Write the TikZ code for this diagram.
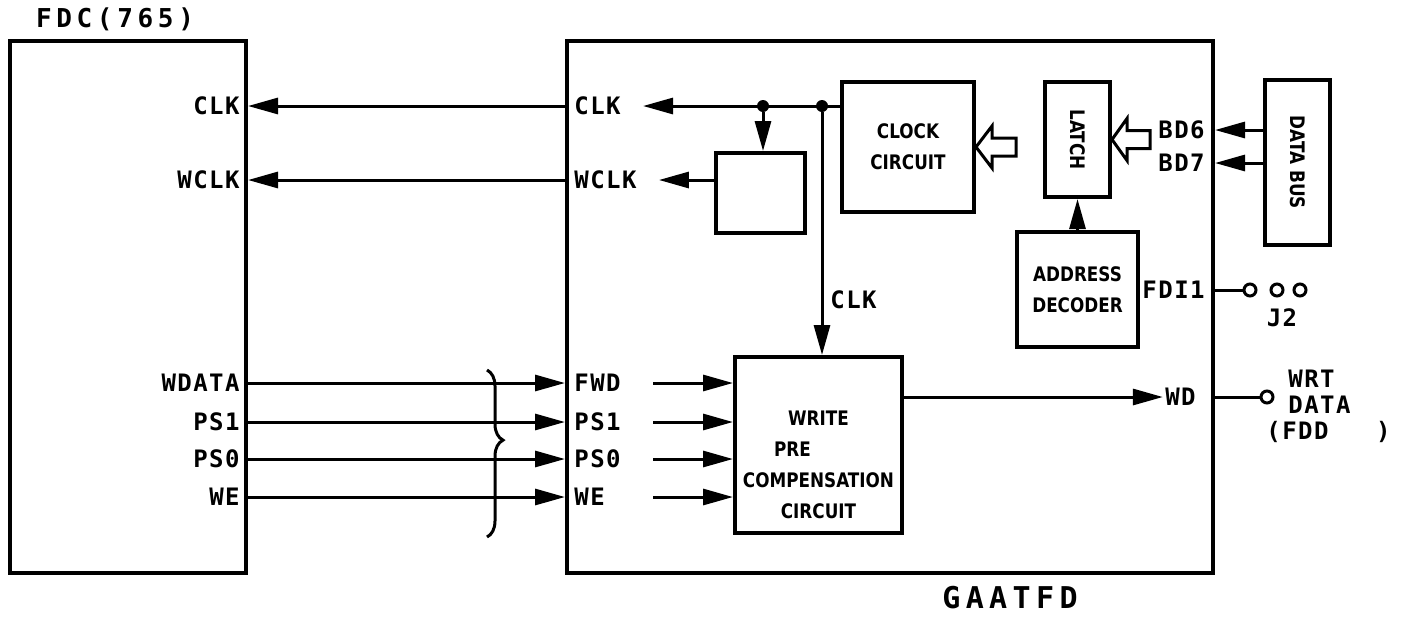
\documentclass[tikz,border=0pt]{standalone}
\usepackage{fontspec}
\setmainfont{DejaVu Sans}
\newfontfamily\pinfont{DejaVu Sans Mono}[LetterSpace=6]
\newfontfamily\titlefont{DejaVu Sans Mono}[LetterSpace=18]
\newfontfamily\boxfont{DejaVu Sans}[FakeStretch=0.84]
\usetikzlibrary{arrows.meta,positioning,calc,decorations.pathreplacing}

\begin{document}
\begin{tikzpicture}[
  x=0.5pt, y=-0.5pt,
  box/.style={draw, line width=2pt, inner sep=0pt, align=center,
    font=\boxfont\bfseries\fontsize{10}{15.5}\selectfont},
  pin/.style={inner sep=1pt, font=\pinfont\bfseries\fontsize{12}{13}\selectfont},
  arrow/.style={-{Triangle[length=15pt,width=8pt]}, line width=1.5pt},
  wire/.style={line width=1.5pt},
  hollow/.style={draw, line width=1.5pt, line join=miter},
  dot/.style={circle, fill, inner sep=0pt, minimum size=6pt},
  pad/.style={circle, draw, line width=1.5pt, inner sep=0pt, minimum size=6pt}
]
\useasboundingbox (0,0) rectangle (1413,617);

% the two chips
\node[box, minimum width=118pt, minimum height=266pt] (fdc) at (128,307) {};
\node[box, minimum width=323pt, minimum height=266pt] (gaa) at (890,307) {};
\node[inner sep=0pt, font=\titlefont\bfseries\fontsize{13}{15}\selectfont] (fdctitle) at (115,19) {FDC(765)};
\node[inner sep=0pt, font=\titlefont\bfseries\fontsize{15}{17}\selectfont] (gaatitle) at (1010,598) {GAATFD};

% blocks inside GAATFD
\node[box, minimum width=44.5pt, minimum height=40pt] (div) at (760.5,193) {};
\node[box, minimum width=66pt, minimum height=65pt] (clock) at (908,147) {CLOCK\\CIRCUIT};
\node[box, minimum width=32.5pt, minimum height=57.5pt,
  label={[rotate=-90, font=\boxfont\bfseries\fontsize{10}{12}\selectfont]center:LATCH}] (latch) at (1077.5,139.5) {};
\node[box, minimum width=60.5pt, minimum height=57.5pt] (dec) at (1077.5,289.5) {ADDRESS\\DECODER};
\node[box, minimum width=83.5pt, minimum height=88pt,
  label={[align=center, yshift=-10pt, font=\boxfont\bfseries\fontsize{10}{15.5}\selectfont]center:{WRITE\\PRE\rule{2.6em}{0pt}\\COMPENSATION\\CIRCUIT}}] (wpc) at (818.5,445) {};
\node[box, minimum width=32.5pt, minimum height=82.5pt,
  label={[rotate=-90, font=\boxfont\bfseries\fontsize{10}{12}\selectfont]center:DATA BUS}] (bus) at (1297.5,162.5) {};

% pin names of FDC
\node[pin, anchor=east] (fclk) at (242,106) {CLK};
\node[pin, anchor=east] (fwclk) at (242,180) {WCLK};
\node[pin, anchor=east] (fwdata) at (242,383) {WDATA};
\node[pin, anchor=east] (fps1) at (242,422) {PS1};
\node[pin, anchor=east] (fps0) at (242,459) {PS0};
\node[pin, anchor=east] (fwe) at (242,497) {WE};

% pin names of GAATFD
\node[pin, anchor=west] (gclk) at (572,106) {CLK};
\node[pin, anchor=west] (gwclk) at (572,180) {WCLK};
\node[pin, anchor=west] (gfwd) at (572,383) {FWD};
\node[pin, anchor=west] (gps1) at (572,422) {PS1};
\node[pin, anchor=west] (gps0) at (572,459) {PS0};
\node[pin, anchor=west] (gwe) at (572,497) {WE};
\node[pin, anchor=east] (gbd6) at (1207,130) {BD6};
\node[pin, anchor=east] (gbd7) at (1207,163) {BD7};
\node[pin, anchor=east] (gfdi) at (1207,290) {FDI1};
\node[pin, anchor=east] (gwd) at (1198,397) {WD};
\node[pin, anchor=west] (vclk) at (828,300) {CLK};

% clock lines
\node[dot] (d1) at (763,106) {};
\node[dot] (d2) at (822,106) {};
\draw[arrow] (clock.west |- gclk) -- ([xshift=10pt]gclk.east);
\draw[arrow] (d1) -- (div.north -| d1);
\draw[arrow] (d2) -- (wpc.north -| d2);
\draw[arrow] (div.west |- gwclk) -- ([xshift=10pt]gwclk.east);
\draw[arrow] (gaa.west |- gclk) -- (fdc.east |- fclk);
\draw[arrow] (gaa.west |- gwclk) -- (fdc.east |- fwclk);

% hollow arrows
\draw[hollow] (clock.east) -- ++(16,-21) -- ++(0,12) -- ++(24,0) -- ++(0,18)
  -- ++(-24,0) -- ++(0,12) -- cycle;
\draw[hollow] (latch.east) -- ++(15,-21) -- ++(0,12) -- ++(23,0) -- ++(0,18)
  -- ++(-23,0) -- ++(0,12) -- cycle;
\draw[arrow] (dec.north) -- (latch.south);
\draw[arrow] (bus.west |- gbd6) -- (gaa.east |- gbd6);
\draw[arrow] (bus.west |- gbd7) -- (gaa.east |- gbd7);

% write data inputs
\foreach \f/\g in {fwdata/gfwd, fps1/gps1, fps0/gps0, fwe/gwe} {
  \draw[arrow] (fdc.east |- \f) -- (gaa.west |- \g);
  \draw[arrow] ([xshift=15pt]gps1.east |- \g) -- (wpc.west |- \g);
}
\coordinate (brtop) at (487,370);
\coordinate (brbot) at (487,537);
\draw[wire, decorate, decoration={brace, amplitude=8pt, aspect=0.42}] (brtop) -- (brbot);

% outputs and jumper
\draw[arrow] (wpc.east |- gwd) -- (gwd.west);
\node[pad] (wdpad) at (1267,397) {};
\draw[wire] (gaa.east |- wdpad) -- (wdpad.west);
\node[pin, anchor=north west, align=left, font=\pinfont\bfseries\fontsize{12}{13}\selectfont]
  (wrt) at (1286,368) {WRT\\DATA\\\hspace*{-11pt}(FDD~~~)};
\node[pad] (j2a) at (1250,290) {};
\node[pad] (j2b) at (1277,290) {};
\node[pad] (j2c) at (1300,290) {};
\draw[wire] (gaa.east |- j2a) -- (j2a.west);
\node[pin] (j2) at (1282,318) {J2};
\end{tikzpicture}
\end{document}
